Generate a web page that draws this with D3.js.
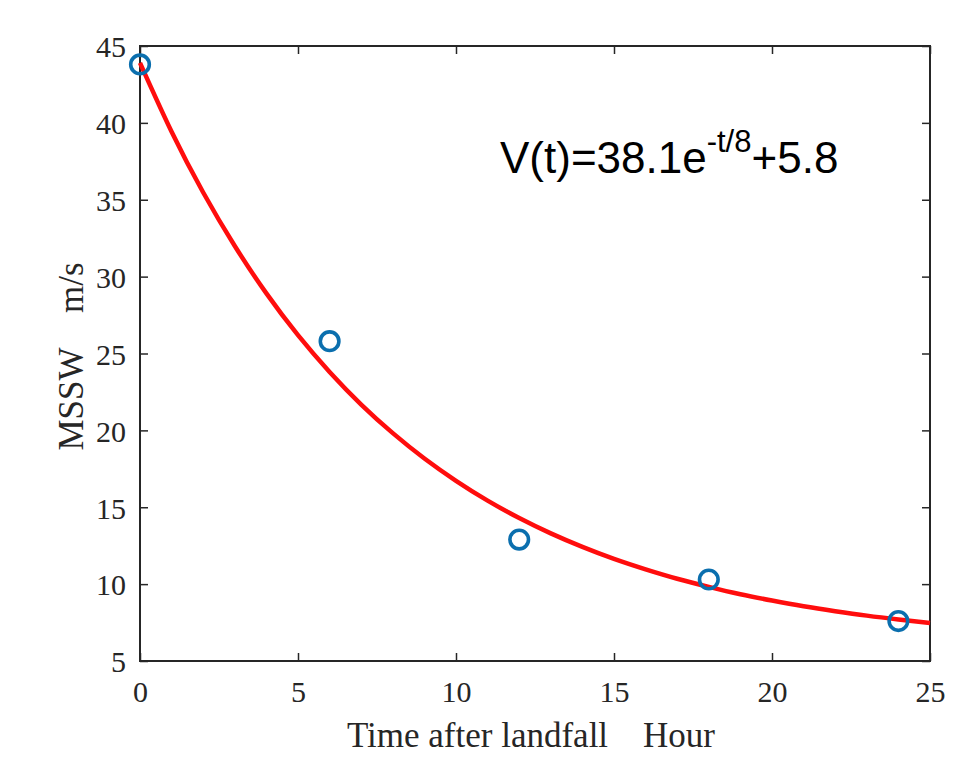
<!DOCTYPE html>
<html>
<head>
<meta charset="utf-8">
<script src="https://cdn.jsdelivr.net/npm/d3@7"></script>
<style>
  html, body { margin: 0; padding: 0; background: #fff; }
  svg { display: block; }
  text { white-space: pre; }
</style>
</head>
<body>
<svg id="chart" width="953" height="764"></svg>
<script>
// Observed data (hours after landfall, MSSW m/s)
const obsHours = [0, 6, 12, 18, 24];
const obsSpeed = [43.8, 25.8, 12.9, 10.3, 7.6];

// Fitted curve (hour, m/s)
const fitHours = [0, 1, 2, 3, 4, 5, 6, 7, 8, 9, 10, 11, 12, 13, 14, 15, 16, 17, 18, 19, 20, 21, 22, 23, 24, 25];
const fitSpeed = [43.90, 39.42, 35.47, 31.99, 28.91, 26.19, 23.80, 21.68, 19.82, 18.17, 16.72, 15.43, 14.30, 13.30, 12.42, 11.64, 10.96, 10.35, 9.82, 9.34, 8.93, 8.56, 8.24, 7.95, 7.70, 7.47];

const xTicks = [0, 5, 10, 15, 20, 25];
const yTicks = [5, 10, 15, 20, 25, 30, 35, 40, 45];

const xLabel = "Time after landfall    Hour";
const yLabel = "MSSW    m/s";

(function () {
const svg = d3.select("#chart");
const mLeft = 140, mRight = 930, mTop = 46, mBottom = 661;
const x = d3.scaleLinear().domain([0, 25]).range([mLeft, mRight]);
const y = d3.scaleLinear().domain([5, 45]).range([mBottom, mTop]);

const axisColor = "#262626";
const serif = "'Liberation Serif', 'Times New Roman', serif";

// Box
svg.append("rect")
  .attr("x", mLeft).attr("y", mTop)
  .attr("width", mRight - mLeft).attr("height", mBottom - mTop)
  .attr("fill", "#fff").attr("stroke", axisColor).attr("stroke-width", 2);

const tickLen = 8;
const gx = svg.append("g").attr("transform", `translate(0,${mBottom})`)
  .call(d3.axisBottom(x).tickValues(xTicks).tickSize(-tickLen).tickPadding(20).tickFormat(d3.format("d")));
const gxTop = svg.append("g").attr("transform", `translate(0,${mTop})`)
  .call(d3.axisTop(x).tickValues(xTicks).tickSize(-tickLen).tickFormat(""));
const gy = svg.append("g").attr("transform", `translate(${mLeft},0)`)
  .call(d3.axisLeft(y).tickValues(yTicks).tickSize(-tickLen).tickPadding(14).tickFormat(d3.format("d")));
const gyR = svg.append("g").attr("transform", `translate(${mRight},0)`)
  .call(d3.axisRight(y).tickValues(yTicks).tickSize(-tickLen).tickFormat(""));

[gx, gxTop, gy, gyR].forEach(g => {
  g.select(".domain").remove();
  g.selectAll(".tick line").attr("stroke", axisColor).attr("stroke-width", 1.5);
  g.selectAll(".tick text").attr("fill", axisColor)
    .style("font-family", serif).style("font-size", "30px");
});
gx.selectAll(".tick text").attr("dy", "0.71em");
gy.selectAll(".tick text").attr("dy", "0.36em");

// Fitted curve
const line = d3.line()
  .x((d, i) => x(fitHours[i]))
  .y(d => y(d))
  .curve(d3.curveNatural);
svg.append("path")
  .datum(fitSpeed)
  .attr("d", line)
  .attr("fill", "none")
  .attr("stroke", "#ff0d0d")
  .attr("stroke-width", 4.5);

// Observed points
svg.append("g").selectAll("circle")
  .data(obsSpeed)
  .join("circle")
  .attr("cx", (d, i) => x(obsHours[i]))
  .attr("cy", d => y(d))
  .attr("r", 9.3)
  .attr("fill", "none")
  .attr("stroke", "#0b6fae")
  .attr("stroke-width", 3.6);

// Axis labels
svg.append("text")
  .attr("x", (mLeft + mRight) / 2 - 4)
  .attr("y", 747)
  .attr("text-anchor", "middle")
  .style("font-family", serif)
  .style("font-size", "35px")
  .attr("fill", axisColor)
  .text(xLabel);

svg.append("text")
  .attr("transform", `translate(83,${(mTop + mBottom) / 2 + 3}) rotate(-90)`)
  .attr("text-anchor", "middle")
  .style("font-family", serif)
  .style("font-size", "35px")
  .attr("fill", axisColor)
  .text(yLabel);

// Equation annotation
const eq = svg.append("text")
  .attr("x", 500)
  .attr("y", 173)
  .style("font-family", "'Liberation Sans', Arial, sans-serif")
  .style("font-size", "44px")
  .attr("fill", "#000");
eq.append("tspan").text("V(t)=38.1e");
eq.append("tspan").attr("dy", -21).style("font-size", "31px").text("-t/8");
eq.append("tspan").attr("dy", 21).text("+5.8");
})();
</script>
</body>
</html>
